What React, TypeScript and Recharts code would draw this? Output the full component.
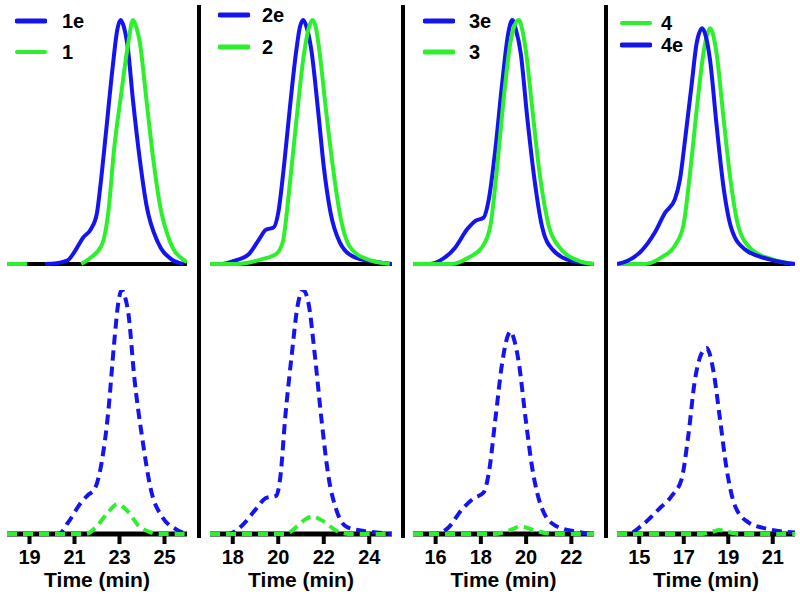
import React from 'react';
import { LineChart, Line, XAxis, YAxis, Legend, Label } from 'recharts';

const FONT = '"Liberation Sans", Arial, Helvetica, sans-serif';
const BLUE = '#1414f0';
const GREEN = '#2cf02c';

type Pt = [number, number | null];

// ---- Panel 1 (time, signal) ----
const top1e: Pt[] = [[19.7,0],[20.2,0.3],[20.7,1.5],[21.0,5],[21.4,11],[21.73,14.3],[22.0,21],[22.15,32],[22.4,54],[22.7,81],[22.9,96],[23.05,100],[23.2,97],[23.35,90],[23.6,67],[23.9,43],[24.2,24],[24.7,9],[25.3,2],[25.85,0]];
const top1: Pt[] = [[18,0],[18.9,0],[19.0,null],[21.3,0],[21.7,2.5],[22.2,7.5],[22.5,21],[22.76,47],[23.08,70],[23.38,90],[23.6,100],[23.75,97],[23.9,91],[24.2,67],[24.5,43],[24.8,24],[25.25,9],[25.8,2],[26,0.8]];
const bot1e: Pt[] = [[18,0],[20.3,0],[20.7,4.5],[21.3,13],[21.6,16],[21.9,18.5],[22.2,29],[22.5,50],[22.76,78],[22.95,95],[23.1,100],[23.25,97],[23.4,90],[23.66,64],[24.0,40],[24.4,18],[24.9,7],[25.5,2],[26,0]];
const bot1: Pt[] = [[18,0],[21.5,0],[22.0,3.3],[22.5,9],[22.9,12.2],[23.4,9],[23.85,3.3],[24.3,1],[24.7,0],[26,0]];
const ticks1 = [19, 21, 23, 25];

// ---- Panel 2 ----
const top2e: Pt[] = [[17,0],[17.5,0],[18.1,1.4],[18.7,4],[19.15,10],[19.45,14],[19.8,15],[20.0,21],[20.25,40],[20.5,63],[20.8,88],[20.95,97],[21.1,100],[21.25,97],[21.45,88],[21.75,63],[22.0,40],[22.3,21],[22.7,9],[23.3,3],[24.2,1],[25,0]];
const top2: Pt[] = [[17,0],[18.2,0],[19.3,2],[19.9,4],[20.2,9],[20.5,32],[20.8,59],[21.1,84],[21.35,97],[21.5,100],[21.65,97],[21.8,88],[22.1,63],[22.4,40],[22.7,21],[23.15,7],[23.9,2],[24.9,0]];
const bot2e: Pt[] = [[17,0],[17.8,0],[18.4,3.4],[19.0,10],[19.45,14.7],[19.9,15.6],[20.1,24],[20.3,47],[20.6,74],[20.85,93.5],[21.1,100],[21.35,93.5],[21.6,74],[21.9,47],[22.2,24],[22.55,10],[23.05,2.7],[24.0,1],[25,0]];
const bot2: Pt[] = [[17,0],[20.3,0],[20.8,2.9],[21.2,6.1],[21.5,7.2],[21.95,5.4],[22.55,1.4],[23.1,0],[25,0]];
const ticks2 = [18, 20, 22, 24];

// ---- Panel 3 ----
const top3e: Pt[] = [[15,0],[15.7,0],[16.3,2],[16.87,6.8],[17.4,14.3],[17.76,17.7],[18.12,19],[18.35,26.5],[18.64,47],[18.94,74],[19.2,94],[19.39,100],[19.55,96],[19.76,86.5],[20.05,60],[20.35,36],[20.7,15.5],[21.16,6],[22.05,1.2],[23,0]];
const top3: Pt[] = [[15,0],[16.7,0],[17.46,2.7],[18.05,6.8],[18.42,15.6],[18.72,40],[19.0,67],[19.3,90.5],[19.5,98],[19.68,100],[19.83,96],[19.98,88],[20.28,63],[20.57,39],[20.94,18],[21.46,7],[22.35,1.2],[23,0]];
const bot3e: Pt[] = [[15,0],[16,0],[16.57,2.7],[17.16,10],[17.68,14.6],[18.12,17],[18.35,25],[18.64,47],[18.94,70],[19.18,81],[19.32,83],[19.46,80],[19.68,70],[19.98,47],[20.28,26.5],[20.72,10],[21.3,3.4],[22.2,1],[23,0]];
const bot3: Pt[] = [[15,0],[18.6,0],[19.24,1.4],[19.75,3.1],[20.28,1.8],[20.9,0.3],[21.3,0],[23,0]];
const ticks3 = [16, 18, 20, 22];

// ---- Panel 4 ----
const top4e: Pt[] = [[14,0],[14.5,1.4],[15.1,5.4],[15.7,12.9],[16.16,21],[16.6,26.5],[16.83,34.7],[17.06,51],[17.36,74],[17.58,90.5],[17.83,96.6],[18.0,93],[18.18,83.7],[18.48,56.5],[18.78,32],[19.15,14.3],[19.75,6],[20.8,2],[22,0]];
const top4: Pt[] = [[14,0],[15.26,0],[16.0,2.7],[16.6,7.5],[16.98,15.6],[17.28,37],[17.58,63],[17.88,86],[18.05,94],[18.18,96.6],[18.32,94],[18.48,86],[18.78,60.5],[19.08,36],[19.45,15.6],[20.05,6],[20.95,2],[22,0]];
const bot4e: Pt[] = [[14,0],[14.5,0],[15.1,3.4],[15.86,10],[16.46,15.6],[16.9,22.4],[17.2,40],[17.5,63],[17.8,74],[18.03,76.2],[18.33,67],[18.63,47],[18.93,26.5],[19.3,11.6],[19.9,4.8],[20.8,2],[22,0.6]];
const bot4: Pt[] = [[14,0],[17.8,0],[18.3,1],[18.6,1.6],[19.0,0.8],[19.5,0],[22,0]];
const ticks4 = [15, 17, 19, 21];

const toRows = (pts: Pt[]) => pts.map(([t, v]) => ({ t, v }));

type Series = { name: string; color: string; pts: Pt[]; lw: number };
type PanelCfg = {
  x0: number; x1: number; domain: [number, number]; ticks: number[];
  top: Series[]; bottom: Series[];
  legend: { left: number; top: number; gap: number; textGap: number };
};

const panels: PanelCfg[] = [
  { x0: 7, x1: 187, domain: [18, 26], ticks: ticks1,
    top: [{ name: '1e', color: BLUE, pts: top1e, lw: 5 }, { name: '1', color: GREEN, pts: top1, lw: 4 }],
    bottom: [{ name: '1e', color: BLUE, pts: bot1e, lw: 5 }, { name: '1', color: GREEN, pts: bot1, lw: 4 }],
    legend: { left: 8, top: 5.5, gap: 31, textGap: 15 } },
  { x0: 210, x1: 392, domain: [17, 25], ticks: ticks2,
    top: [{ name: '2e', color: BLUE, pts: top2e, lw: 5 }, { name: '2', color: GREEN, pts: top2, lw: 5 }],
    bottom: [{ name: '2e', color: BLUE, pts: bot2e, lw: 5 }, { name: '2', color: GREEN, pts: bot2, lw: 4 }],
    legend: { left: 8, top: -1, gap: 32, textGap: 12 } },
  { x0: 413, x1: 594, domain: [15, 23], ticks: ticks3,
    top: [{ name: '3e', color: BLUE, pts: top3e, lw: 5 }, { name: '3', color: GREEN, pts: top3, lw: 5 }],
    bottom: [{ name: '3e', color: BLUE, pts: bot3e, lw: 5 }, { name: '3', color: GREEN, pts: bot3, lw: 4 }],
    legend: { left: 10, top: 5.5, gap: 31, textGap: 14 } },
  { x0: 617, x1: 795, domain: [14, 22], ticks: ticks4,
    top: [{ name: '4', color: GREEN, pts: top4, lw: 4 }, { name: '4e', color: BLUE, pts: top4e, lw: 5 }],
    bottom: [{ name: '4e', color: BLUE, pts: bot4e, lw: 5 }, { name: '4', color: GREEN, pts: bot4, lw: 4 }],
    legend: { left: 3, top: 12, gap: 22, textGap: 9 } },
];

const separators = [197, 401, 604];

function LegendBox({ p }: { p: PanelCfg }) {
  return (
    <div style={{ fontFamily: FONT }}>
      {p.top.map((s) => (
        <div key={s.name} style={{ display: 'flex', alignItems: 'center', height: p.legend.gap }}>
          <svg width={32} height={10} style={{ display: 'block' }}>
            <line x1={2} x2={30} y1={5} y2={5} stroke={s.color} strokeWidth={s.lw} strokeLinecap="round" />
          </svg>
          <span style={{ marginLeft: p.legend.textGap, fontSize: 20, fontWeight: 'bold', lineHeight: 1, color: '#000' }}>{s.name}</span>
        </div>
      ))}
    </div>
  );
}

function Panel({ p }: { p: PanelCfg }) {
  const w = p.x1 - p.x0;
  return (
    <>
      <div style={{ position: 'absolute', left: p.x0, top: 0 }}>
        <LineChart width={w} height={270} margin={{ top: 20, right: 0, bottom: 0, left: 0 }}>
          <XAxis type="number" dataKey="t" domain={p.domain} ticks={[]} tick={false} tickLine={false}
            axisLine={{ stroke: '#000', strokeWidth: 4 }} height={6} />
          <YAxis hide type="number" domain={[0, 100]} />
          {p.top.map((s) => (
            <Line key={s.name} data={toRows(s.pts)} dataKey="v" name={s.name} type="monotone"
              stroke={s.color} strokeWidth={4} dot={false} activeDot={false}
              isAnimationActive={false} zIndex={600} />
          ))}
          <Legend layout="vertical" align="center" verticalAlign="middle"
            wrapperStyle={{ left: p.legend.left, top: p.legend.top, width: 'auto' }}
            content={() => <LegendBox p={p} />} />
        </LineChart>
      </div>
      <div style={{ position: 'absolute', left: p.x0, top: 290 }}>
        <LineChart width={w} height={310} margin={{ top: 0, right: 0, bottom: 0, left: 0 }}>
          <XAxis type="number" dataKey="t" domain={p.domain} ticks={p.ticks} interval={0}
            axisLine={{ stroke: '#000', strokeWidth: 5 }}
            tickLine={{ stroke: '#000', strokeWidth: 4 }} tickSize={10} tickMargin={6}
            tick={{ fontSize: 20, fontWeight: 'bold', fill: '#000', fontFamily: FONT }}
            height={66}>
            <Label value="Time (min)" position="insideBottom" offset={13}
              fontSize={21} fontWeight="bold" fill="#000" fontFamily={FONT} />
          </XAxis>
          <YAxis hide type="number" domain={[0, 100]} />
          {p.bottom.map((s) => (
            <Line key={s.name} data={toRows(s.pts)} dataKey="v" name={s.name} type="monotone"
              stroke={s.color} strokeWidth={4} strokeDasharray="10 6" dot={false} activeDot={false}
              isAnimationActive={false} zIndex={600} />
          ))}
        </LineChart>
      </div>
    </>
  );
}

export default function App() {
  return (
    <div style={{ position: 'absolute', left: 0, top: 0, width: 800, height: 602, overflow: 'hidden', background: '#fff' }}>
      {panels.map((p, i) => <Panel key={i} p={p} />)}
      {separators.map((x) => (
        <div key={x} style={{ position: 'absolute', left: x, top: 5, width: 4, height: 533, background: '#000' }} />
      ))}
    </div>
  );
}
